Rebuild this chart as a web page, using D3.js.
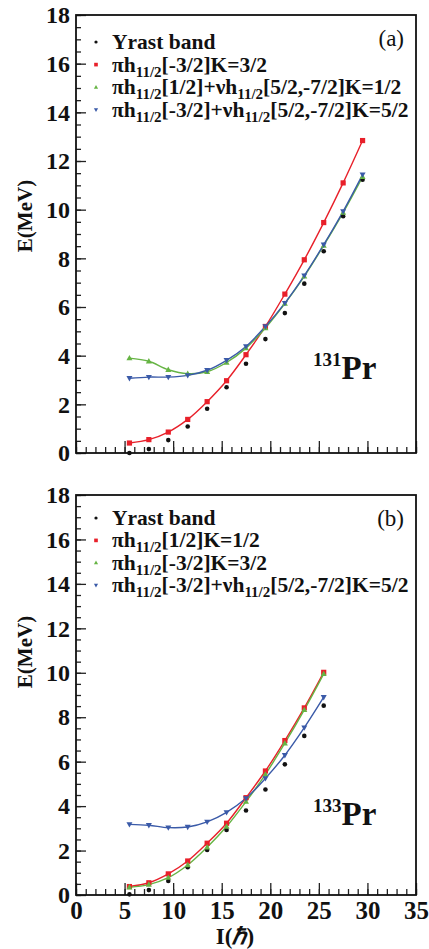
<!DOCTYPE html>
<html><head><meta charset="utf-8">
<script src="https://cdn.jsdelivr.net/npm/d3@7"></script>
<style>body{margin:0;background:#fff}svg{display:block}</style>
</head><body>
<script>
// ---- data ----
const spinA = [5.5,7.5,9.5,11.5,13.5,15.5,17.5,19.5,21.5,23.5,25.5,27.5,29.5];
const yrastA = [0.0,0.16,0.53,1.09,1.82,2.70,3.67,4.68,5.75,6.96,8.29,9.73,11.23];
const redA   = [0.41,0.55,0.86,1.38,2.11,2.97,4.04,5.20,6.53,7.94,9.47,11.10,12.84];
const greenA = [3.90,3.77,3.42,3.26,3.34,3.72,4.31,5.14,6.14,7.26,8.53,9.88,11.35];
const blueA  = [3.07,3.12,3.12,3.19,3.40,3.81,4.38,5.20,6.16,7.29,8.56,9.93,11.44];

const spinB = [5.5,7.5,9.5,11.5,13.5,15.5,17.5,19.5,21.5,23.5,25.5];
const yrastB = [0.03,0.22,0.63,1.25,2.03,2.93,3.80,4.75,5.88,7.16,8.52];
const redB   = [0.38,0.55,0.95,1.53,2.33,3.23,4.38,5.58,6.95,8.42,10.02];
const greenB = [0.35,0.47,0.78,1.35,2.15,3.08,4.20,5.43,6.83,8.33,9.95];
const blueB  = [3.18,3.14,3.03,3.06,3.29,3.72,4.35,5.25,6.29,7.53,8.90];

const xTicks = [0,5,10,15,20,25,30,35];
const yTicks = [0,2,4,6,8,10,12,14,16,18];

const legendA = [
  [["Yrast band"]],
  [["πh"],["11/2","sub"],["[-3/2]K=3/2"]],
  [["πh"],["11/2","sub"],["[1/2]+νh"],["11/2","sub"],["[5/2,-7/2]K=1/2"]],
  [["πh"],["11/2","sub"],["[-3/2]+νh"],["11/2","sub"],["[5/2,-7/2]K=5/2"]]
];
const legendB = [
  [["Yrast band"]],
  [["πh"],["11/2","sub"],["[1/2]K=1/2"]],
  [["πh"],["11/2","sub"],["[-3/2]K=3/2"]],
  [["πh"],["11/2","sub"],["[-3/2]+νh"],["11/2","sub"],["[5/2,-7/2]K=5/2"]]
];

const COL = {black:"#111", red:"#e8202a", green:"#66b444", blue:"#3a5aa8"};
const FONT = "'Liberation Serif','Times New Roman',serif";

const W = 429, H = 949;
const svg = d3.select("body").append("svg").attr("width",W).attr("height",H)
  .style("font-family",FONT);

function panel(cfg){
  const x = d3.scaleLinear().domain([0,35]).range([76,416]);
  const y = d3.scaleLinear().domain([0,18]).range([cfg.bottom,cfg.top]);
  const g = svg.append("g");

  // minor ticks
  g.append("g").attr("transform",`translate(0,${cfg.bottom})`)
    .call(d3.axisBottom(x).tickValues(d3.range(0,35.01,1)).tickSizeInner(-6).tickSizeOuter(0).tickFormat(""))
    .call(a=>a.select(".domain").remove());
  g.append("g").attr("transform",`translate(76,0)`)
    .call(d3.axisLeft(y).tickValues(d3.range(0,18.01,0.5)).tickSizeInner(-5).tickSizeOuter(0).tickFormat(""))
    .call(a=>a.select(".domain").remove());
  // major ticks
  const xa = g.append("g").attr("transform",`translate(0,${cfg.bottom})`)
    .call(d3.axisBottom(x).tickValues(xTicks).tickSizeInner(-12).tickSizeOuter(0).tickPadding(6)
      .tickFormat(cfg.xlabels ? d3.format("d") : ""));
  xa.select(".domain").remove();
  xa.selectAll("text").attr("font-size",25).attr("font-weight","bold").attr("font-family",FONT).attr("fill","#111");
  const ya = g.append("g").attr("transform",`translate(76,0)`)
    .call(d3.axisLeft(y).tickValues(yTicks).tickSizeInner(-10).tickSizeOuter(0).tickPadding(6).tickFormat(d3.format("d")));
  ya.select(".domain").remove();
  ya.selectAll("text").attr("font-size",24).attr("font-weight","bold").attr("font-family",FONT).attr("fill","#111");
  g.selectAll(".tick line").attr("stroke","#222").attr("stroke-width",1.3);

  // frame
  g.append("rect").attr("x",76).attr("y",cfg.top).attr("width",340).attr("height",cfg.bottom-cfg.top)
    .attr("fill","none").attr("stroke","#111").attr("stroke-width",1.8);

  // lines
  const line = d3.line().x((d,i)=>x(cfg.spin[i])).y(d=>y(d)).curve(d3.curveCatmullRom.alpha(0.5));
  cfg.series.forEach(s=>{
    if(s.line) g.append("path").attr("d",line(s.v)).attr("fill","none").attr("stroke",COL[s.c]).attr("stroke-width",1.4);
  });
  cfg.series.forEach(s=>{
    const pts = s.v.map((v,i)=>[x(cfg.spin[i]),y(v)]);
    drawMarkers(g,pts,s.m,COL[s.c],1);
  });

  // legend
  cfg.legend.forEach((row,i)=>{
    const by = cfg.legY + i*cfg.legDy;
    drawMarkers(g,[[96,by-7]],cfg.series[i].m,COL[cfg.series[i].c],0.7);
    const t = g.append("text").attr("x",112).attr("y",by).attr("font-size",21.5).attr("font-weight","bold").attr("fill","#111");
    row.forEach((seg,k)=>{
      const ts = t.append("tspan").text(seg[0]);
      if(seg[1]==="sub") ts.attr("font-size",15).attr("dy",5);
      else if(k>0) ts.attr("dy",-5);
    });
  });
  g.append("text").attr("x",404).attr("y",cfg.top+31).attr("text-anchor","end")
    .attr("font-size",23).attr("fill","#111").text(cfg.tag);

  // nucleus label
  const nt = g.append("text").attr("x",313).attr("y",cfg.nucY).attr("font-weight","bold").attr("fill","#111");
  nt.append("tspan").attr("font-size",19).attr("dy",-13).text(cfg.mass);
  nt.append("tspan").attr("font-size",33).attr("dy",13).text("Pr");

  // y label
  g.append("text").attr("transform",`translate(32,${cfg.yLabY}) rotate(-90)`).attr("text-anchor","middle")
    .attr("font-size",21).attr("font-weight","bold").attr("fill","#111").text("E(MeV)");
  return {x,y};
}

function drawMarkers(g,pts,m,col,s){
  pts.forEach(([px,py])=>{
    if(m==="dot") g.append("circle").attr("cx",px).attr("cy",py).attr("r",2.3*s).attr("fill",col);
    else if(m==="sq") g.append("rect").attr("x",px-2.6*s).attr("y",py-2.6*s).attr("width",5.2*s).attr("height",5.2*s).attr("fill",col);
    else if(m==="tu") g.append("path").attr("d",`M${px},${py-3.2*s}L${px+3*s},${py+2.2*s}L${px-3*s},${py+2.2*s}Z`).attr("fill",col);
    else if(m==="td") g.append("path").attr("d",`M${px},${py+3.2*s}L${px+3*s},${py-2.2*s}L${px-3*s},${py-2.2*s}Z`).attr("fill",col);
  });
}

panel({top:15,bottom:453,spin:spinA,xlabels:false,tag:"(a)",mass:"131",nucY:379,yLabY:216,
  legY:49,legDy:22.6,legend:legendA,
  series:[{v:yrastA,c:"black",m:"dot",line:false},{v:redA,c:"red",m:"sq",line:true},
          {v:greenA,c:"green",m:"tu",line:true},{v:blueA,c:"blue",m:"td",line:true}]});
panel({top:495,bottom:895,spin:spinB,xlabels:true,tag:"(b)",mass:"133",nucY:825,yLabY:652,
  legY:525,legDy:22.4,legend:legendB,
  series:[{v:yrastB,c:"black",m:"dot",line:false},{v:redB,c:"red",m:"sq",line:true},
          {v:greenB,c:"green",m:"tu",line:true},{v:blueB,c:"blue",m:"td",line:true}]});

// x axis label
const xl = svg.append("text").attr("x",235).attr("y",944).attr("text-anchor","middle")
  .attr("font-size",23).attr("font-weight","bold").attr("fill","#111");
xl.append("tspan").text("I(");
xl.append("tspan").attr("font-style","italic").text("ℏ");
xl.append("tspan").text(")");
</script>
</body></html>
